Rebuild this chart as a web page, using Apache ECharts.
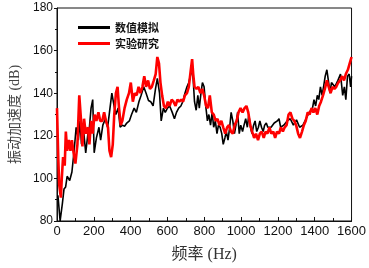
<!DOCTYPE html>
<html>
<head>
<meta charset="utf-8">
<script src="https://cdn.jsdelivr.net/npm/echarts@6/dist/echarts.min.js"></script>
<style>
  html, body { margin: 0; padding: 0; background: #fff; }
  #content { width: 369px; height: 268px; }
</style>
</head>
<body>
<div id="content"></div>
<script>
// 数值模拟 (black)
var blackHz = [5,17,29,38,47,55,69,81,93,104,116,125,133,145,156,168,176,185,194,202,214,228,237,249,263,275,285,298,310,320,332,343,355,367,379,393,405,419,431,445,457,471,484,497,509,522,535,545,557,566,578,588,600,612,626,638,649,661,673,683,695,706,716,727,734,740,747,756,765,773,782,790,799,808,817,825,834,843,851,860,869,877,886,895,903,912,920,929,938,946,955,964,972,981,990,998,1008,1016,1025,1034,1042,1051,1059,1068,1076,1085,1094,1102,1111,1120,1128,1137,1145,1163,1180,1197,1206,1215,1232,1250,1267,1284,1301,1318,1336,1353,1370,1388,1396,1405,1414,1422,1431,1440,1448,1457,1466,1474,1483,1491,1509,1526,1540,1552,1561,1569,1578,1587,1595,1600];
var blackVal = [92,80,88,95,96,101,99,103,113,124,118,127,116,122,112,121,124,133,137,112,119,124,118,125,128,124,131,140,134,130,133,124,125,124.5,126,127,130,133,131,136,139,143,140,136.6,136,134,142,147,140,127,133,131,133,134,131,128,131,133,134,136,140,143,145,149,152,146,136,132,139,133,140,145,143,134,127,130,125,131,124,127,121,125,124,121,116,119,122,118,124,131,127,121,125,131,121,125,122,125,128,124,130,124,121,125,127,122,124,127,124,122,125,126,124,124,126,127,128,124,125,127,128,125,127.5,124,125,128,131,133,137,134,139,137,143,139,143,148,151,146,140,145,143,146,149,139,143,137,148,149,143,148];

// 实验研究 (red)
var redHz = [0,7,12,21,26,33,42,48,55,64,73,81,90,100,111,121,130,138,147,156,168,176,185,194,204,214,225,235,246,256,266,277,285,294,303,311,320,329,337,346,355,367,379,391,401,412,422,433,443,453,464,474,484,495,505,515,526,536,545,554,562,571,581,592,602,612,623,633,644,654,664,675,685,695,706,716,727,734,740,747,758,768,779,789,799,810,820,830,841,851,862,872,882,893,903,914,924,934,945,955,965,976,986,997,1008,1019,1029,1039,1050,1060,1071,1081,1092,1102,1112,1123,1133,1143,1154,1164,1175,1185,1195,1206,1216,1227,1237,1247,1258,1268,1279,1289,1299,1310,1320,1331,1341,1351,1362,1372,1383,1393,1403,1414,1424,1434,1445,1455,1466,1476,1486,1497,1507,1517,1528,1538,1549,1559,1569,1580,1590,1600];
var redVal = [133,109,97,91,100,110,106,122,113,118,113,118,112,107,116,139,128,115,128,121,124,116,127,121,130,127,131,127,127,131,127,124,113,110,116,130,140,143,133,125,127,133,137,140,145,136,140,139,143,140,143,148,143,146,142,143,146,149,157,154,145,139,134,133,136,134,137,136,134,137,136,137,136,139,140,143,151,156,149,143,142,143,140,142,139,134,133,139,131,130,127,128,125,127,124,121,124,125,122,121,125,127,131,133,131,133,134,131,125,122,119,121,118,121,122,119,122,121,124,121,122,119,122,121,124,122,124,125,130,131,128,127,125,121,119,122,125,127,131,130,133,131,133,130,134,136,139,142,146,143,140,143,142,143,145,146,148,146,149,151,154,157];

var seriesNames = ["数值模拟", "实验研究"];

function pairs(xs, ys) {
  return xs.map(function (x, i) { return [x, ys[i]]; });
}

var myChart = echarts.init(document.getElementById("content"));
var tickFont = { fontFamily: "Liberation Sans, Arial", color: "#111" };
var option = {
  animation: false,
  grid: {
    left: 46, right: 15, top: 8, bottom: 37,
    show: true, borderColor: "#111", borderWidth: 1
  },
  legend: {
    orient: "vertical",
    left: 73, top: 17,
    itemWidth: 32, itemHeight: 3, itemGap: 5,
    icon: "rect",
    textStyle: { fontSize: 11, fontWeight: "bold", color: "#111", fontFamily: "Noto Sans CJK SC" },
    data: seriesNames
  },
  xAxis: {
    type: "value",
    min: 0, max: 1600, interval: 200,
    name: "频率 (Hz)",
    nameLocation: "middle",
    nameGap: 26,
    nameTextStyle: { fontSize: 16, color: "#333", fontFamily: "Liberation Serif, Noto Sans CJK SC" },
    axisLine: { lineStyle: { color: "#111", width: 1 } },
    axisTick: { inside: true, length: 4, lineStyle: { color: "#111" } },
    minorTick: { show: true, splitNumber: 2, length: 3, lineStyle: { color: "#111" } },
    axisLabel: Object.assign({ fontSize: 13, margin: 4, formatter: function (v) { return String(v); } }, tickFont),
    splitLine: { show: false }
  },
  yAxis: {
    type: "value",
    min: 80, max: 180, interval: 20,
    name: "振动加速度 (dB)",
    nameLocation: "middle",
    nameGap: 35,
    nameTextStyle: { fontSize: 14, color: "#444", fontFamily: "Liberation Serif, Noto Sans CJK SC" },
    axisLine: { show: true, lineStyle: { color: "#111", width: 1 } },
    axisTick: { show: true, inside: false, length: 3, lineStyle: { color: "#111" } },
    minorTick: { show: true, splitNumber: 2, length: 2, lineStyle: { color: "#111" } },
    axisLabel: Object.assign({ fontSize: 12, margin: 4, formatter: function (v) { return String(v); } }, tickFont),
    splitLine: { show: false }
  },
  series: [
    {
      name: seriesNames[0],
      type: "line",
      showSymbol: false,
      data: pairs(blackHz, blackVal),
      lineStyle: { color: "#000", width: 1.6 },
      itemStyle: { color: "#000" }
    },
    {
      name: seriesNames[1],
      type: "line",
      showSymbol: false,
      data: pairs(redHz, redVal),
      lineStyle: { color: "#ff0000", width: 2.6 },
      itemStyle: { color: "#ff0000" }
    }
  ]
};
myChart.setOption(option);
</script>
</body>
</html>
